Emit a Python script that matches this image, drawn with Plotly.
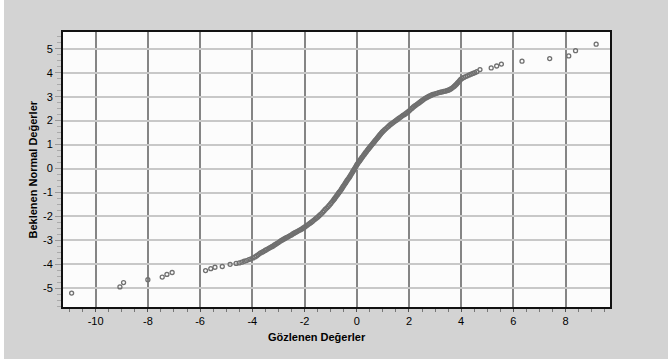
import plotly.graph_objects as go

tail_lo_x = [-10.92, -9.07, -8.93, -8.00, -7.45, -7.27, -7.07, -5.79, -5.59, -5.43, -5.15, -4.85, -4.62,
             -4.50, -4.40, -4.31, -4.22, -4.13, -4.05, -3.97, -3.90, -3.84]
tail_lo_y = [-5.20, -4.94, -4.76, -4.64, -4.53, -4.42, -4.34, -4.26, -4.18, -4.12, -4.09, -4.00, -3.96,
             -3.94, -3.91, -3.87, -3.84, -3.80, -3.77, -3.73, -3.69, -3.65]

low_x = [-3.78, -3.73, -3.68, -3.62, -3.57, -3.51, -3.46, -3.40, -3.35, -3.30, -3.25, -3.20, -3.15,
         -3.10, -3.05, -3.00, -2.95, -2.90, -2.85, -2.80, -2.75, -2.70, -2.65, -2.60, -2.55, -2.50,
         -2.45, -2.40, -2.35, -2.30, -2.25, -2.20, -2.15, -2.10, -2.05, -2.00, -1.95, -1.90, -1.85,
         -1.80, -1.75, -1.70, -1.65, -1.60, -1.55, -1.50, -1.45, -1.40, -1.35, -1.30, -1.25, -1.20,
         -1.15, -1.10, -1.05, -1.00, -0.96, -0.92]
low_y = [-3.60, -3.56, -3.52, -3.49, -3.46, -3.42, -3.39, -3.35, -3.32, -3.29, -3.26, -3.23, -3.19,
         -3.16, -3.12, -3.09, -3.05, -3.01, -2.98, -2.95, -2.92, -2.89, -2.86, -2.83, -2.80, -2.77,
         -2.73, -2.70, -2.67, -2.64, -2.61, -2.58, -2.55, -2.52, -2.48, -2.45, -2.41, -2.37, -2.33,
         -2.29, -2.25, -2.21, -2.16, -2.12, -2.07, -2.03, -1.98, -1.93, -1.88, -1.82, -1.76, -1.70,
         -1.65, -1.59, -1.53, -1.47, -1.41, -1.36]

mid_x = [-0.88, -0.85, -0.82, -0.79, -0.76, -0.73, -0.70, -0.67, -0.64, -0.61, -0.58, -0.55, -0.52,
         -0.49, -0.46, -0.43, -0.40, -0.37, -0.34, -0.31, -0.28, -0.25, -0.22, -0.19, -0.16, -0.13,
         -0.10, -0.07, -0.04, -0.01, 0.02, 0.05, 0.08, 0.11, 0.14, 0.17, 0.20, 0.23, 0.26, 0.29, 0.32,
         0.35, 0.38, 0.41, 0.44, 0.47, 0.50, 0.53, 0.56, 0.59, 0.62, 0.65, 0.68, 0.71, 0.74, 0.77,
         0.80, 0.83, 0.86, 0.89, 0.92, 0.95, 0.98]
mid_y = [-1.30, -1.26, -1.21, -1.17, -1.12, -1.08, -1.03, -0.99, -0.95, -0.90, -0.85, -0.80, -0.75,
         -0.70, -0.65, -0.60, -0.55, -0.50, -0.45, -0.41, -0.36, -0.31, -0.25, -0.20, -0.14, -0.09,
         -0.04, 0.02, 0.07, 0.13, 0.18, 0.23, 0.28, 0.32, 0.37, 0.41, 0.46, 0.50, 0.55, 0.59, 0.64,
         0.68, 0.72, 0.77, 0.81, 0.85, 0.89, 0.93, 0.97, 1.01, 1.05, 1.09, 1.13, 1.17, 1.21, 1.25,
         1.29, 1.33, 1.37, 1.41, 1.45, 1.49, 1.53]

high_x = [1.02, 1.07, 1.12, 1.17, 1.22, 1.27, 1.32, 1.37, 1.42, 1.47, 1.52, 1.57, 1.62, 1.67, 1.72,
          1.77, 1.82, 1.87, 1.92, 1.97, 2.02, 2.07, 2.12, 2.17, 2.22, 2.27, 2.32, 2.37, 2.42, 2.47,
          2.52, 2.57, 2.62, 2.67, 2.72, 2.77, 2.82, 2.87, 2.92, 2.97, 3.03, 3.09, 3.15, 3.21, 3.27,
          3.33, 3.39, 3.45, 3.50, 3.55, 3.60, 3.65, 3.70, 3.74, 3.78, 3.82, 3.86, 3.90, 3.94, 3.98]
high_y = [1.57, 1.62, 1.67, 1.72, 1.77, 1.82, 1.86, 1.90, 1.94, 1.98, 2.02, 2.06, 2.10, 2.14, 2.18,
          2.22, 2.25, 2.29, 2.33, 2.37, 2.42, 2.47, 2.52, 2.57, 2.61, 2.65, 2.69, 2.73, 2.77, 2.81,
          2.85, 2.89, 2.93, 2.96, 2.99, 3.02, 3.04, 3.07, 3.09, 3.11, 3.13, 3.15, 3.17, 3.19, 3.20,
          3.22, 3.23, 3.25, 3.27, 3.29, 3.32, 3.36, 3.40, 3.44, 3.48, 3.52, 3.57, 3.62, 3.67, 3.72]

tail_hi_x = [4.03, 4.10, 4.17, 4.24, 4.31, 4.38, 4.45, 4.52, 4.60, 4.72, 5.15, 5.36, 5.54, 6.33,
             7.39, 8.12, 8.38, 9.17]
tail_hi_y = [3.76, 3.80, 3.84, 3.87, 3.91, 3.94, 3.97, 4.00, 4.04, 4.13, 4.20, 4.28, 4.36, 4.48,
             4.59, 4.70, 4.92, 5.19]

x_tickvals = [-10, -8, -6, -4, -2, 0, 2, 4, 6, 8]
x_ticktext = ["-10", "-8", "-6", "-4", "-2", "0", "2", "4", "6", "8"]
y_tickvals = [-5, -4, -3, -2, -1, 0, 1, 2, 3, 4, 5]
y_ticktext = ["-5", "-4", "-3", "-2", "-1", "0", "1", "2", "3", "4", "5"]

x_title = "Gözlenen Değerler"
y_title = "Beklenen Normal Değerler"

xs = tail_lo_x + low_x + mid_x + high_x + tail_hi_x
ys = tail_lo_y + low_y + mid_y + high_y + tail_hi_y

fig = go.Figure()
fig.add_trace(go.Scatter(
    x=xs, y=ys, mode="markers",
    marker=dict(symbol="circle-open", size=4, color="#707070", line=dict(width=1.3, color="#707070")),
    showlegend=False, cliponaxis=False,
))

font = "Liberation Sans, Arial, sans-serif"
fig.update_layout(
    width=668, height=359,
    margin=dict(l=63, r=58, t=32, b=52),
    paper_bgcolor="#d3d3d3",
    plot_bgcolor="#fcfcfc",
    font=dict(family=font, size=11, color="black"),
    xaxis=dict(
        range=[-11.25, 9.7], tickvals=x_tickvals, ticktext=x_ticktext,
        showgrid=True, gridcolor="#858585", gridwidth=1.5,
        ticks="outside", ticklen=3, tickcolor="#555", tickwidth=1,
        minor=dict(dtick=0.5, tick0=0, ticks="outside", ticklen=3, tickcolor="#777", showgrid=False),
        showline=True, linecolor="#111", linewidth=2, mirror=True,
        zeroline=False, tickfont=dict(size=11, family=font, color="black"),
    ),
    yaxis=dict(
        range=[-5.78, 5.7], tickvals=y_tickvals, ticktext=y_ticktext,
        showgrid=True, gridcolor="#c8c8c8", gridwidth=1.5,
        ticks="outside", ticklen=6, tickcolor="#999", tickwidth=1,
        minor=dict(dtick=0.25, tick0=0, ticks="outside", ticklen=4, tickcolor="#aaa", showgrid=False),
        showline=True, linecolor="#111", linewidth=2, mirror=True,
        zeroline=False, tickfont=dict(size=11, family=font, color="black"),
    ),
    shapes=[dict(type="rect", xref="paper", yref="paper", x0=-0.2, x1=-59 / 547, y0=-1, y1=2,
                 fillcolor="white", line=dict(width=0), layer="above")],
    annotations=[
        dict(text="<b>" + x_title + "</b>", xref="paper", yref="paper",
             x=(316.5 - 63) / 547, y=-(336.5 - 307) / 275, xanchor="center", yanchor="middle",
             showarrow=False, font=dict(size=11, family=font, color="black")),
        dict(text="<b>" + y_title + "</b>", xref="paper", yref="paper",
             x=-(63 - 32) / 547, y=0.5, xanchor="center", yanchor="middle", textangle=-90,
             showarrow=False, font=dict(size=11, family=font, color="black")),
    ],
)

fig.write_html("out.html")
